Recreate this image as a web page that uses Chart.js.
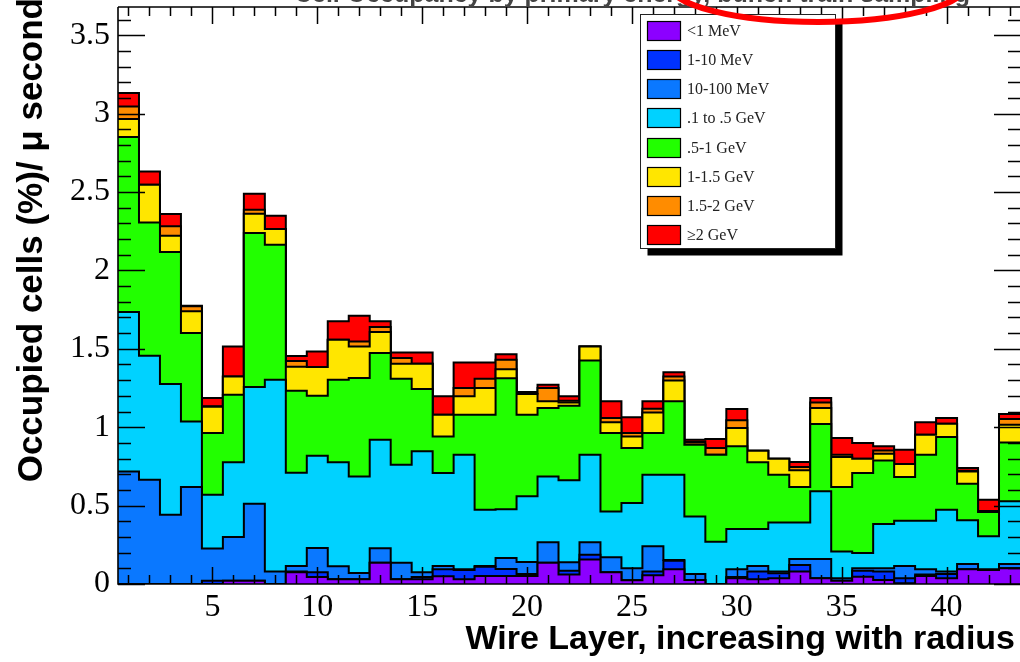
<!DOCTYPE html>
<html>
<head>
<meta charset="utf-8">
<title>Occupied cells per wire layer</title>
<script src="https://cdn.jsdelivr.net/npm/chart.js"></script>
<style>
  html, body { margin: 0; padding: 0; background: #fff; overflow: hidden; }
  canvas { display: block; }
</style>
</head>
<body>
<canvas id="chart" width="1020" height="662"></canvas>
<script>
// Wire layers (one histogram bin per layer)
const wireLayers = [1, 2, 3, 4, 5, 6, 7, 8, 9, 10, 11, 12, 13, 14, 15, 16, 17, 18, 19, 20,
  21, 22, 23, 24, 25, 26, 27, 28, 29, 30, 31, 32, 33, 34, 35, 36, 37, 38, 39, 40, 41, 42, 43];

// Occupied cells (%) per microsecond, split by primary particle energy
const eBelow1MeV = [0, 0, 0, 0, 0, 0.021, 0.021, 0, 0.075, 0.045, 0.030, 0.030, 0.135, 0.030, 0.030,
  0.050, 0.030, 0.051, 0.051, 0.051, 0.135, 0.060, 0.156, 0.075, 0.024, 0.056, 0.094, 0.026, 0,
  0.036, 0.030, 0.036, 0.079, 0.036, 0.021, 0.047, 0.026, 0.005, 0.051, 0.036, 0.094, 0.089, 0.100];
const e1to10MeV = [0, 0, 0, 0, 0.020, 0, 0, 0, 0.004, 0.030, 0, 0, 0, 0, 0.015,
  0.044, 0.059, 0.059, 0.045, 0.013, 0, 0.025, 0.030, 0, 0, 0.024, 0.055, 0, 0,
  0.009, 0.049, 0.032, 0.042, 0, 0, 0.038, 0.053, 0.031, 0.009, 0.028, 0, 0, 0];
const e10to100MeV = [0.718, 0.665, 0.442, 0.619, 0.207, 0.279, 0.491, 0.079, 0.036, 0.155, 0.083, 0.040, 0.093, 0.105, 0.030,
  0.021, 0.005, 0.005, 0.070, 0.076, 0.132, 0.053, 0.081, 0.095, 0.077, 0.161, 0.004, 0.038, 0,
  0.049, 0.036, 0.011, 0.038, 0.123, 0.015, 0.015, 0.021, 0.079, 0.034, 0.015, 0.034, 0.005, 0.028];
const e01to05GeV = [1.017, 0.791, 0.834, 0.418, 0.343, 0.476, 0.744, 1.224, 0.595, 0.588, 0.663, 0.616, 0.692, 0.626, 0.771,
  0.593, 0.731, 0.359, 0.310, 0.419, 0.419, 0.523, 0.558, 0.293, 0.416, 0.456, 0.544, 0.367, 0.270,
  0.257, 0.236, 0.314, 0.234, 0.432, 0.172, 0.098, 0.283, 0.289, 0.310, 0.395, 0.278, 0.210, 0.399];
const e05to1GeV = [1.116, 0.850, 0.841, 0.564, 0.393, 0.431, 0.982, 0.861, 0.522, 0.383, 0.527, 0.628, 0.553, 0.548, 0.397,
  0.233, 0.255, 0.606, 0.836, 0.521, 0.436, 0.476, 0.601, 0.500, 0.350, 0.266, 0.468, 0.457, 0.555,
  0.527, 0.425, 0.304, 0.226, 0.429, 0.411, 0.510, 0.405, 0.278, 0.421, 0.464, 0.234, 0.156, 0.376];
const e1to15GeV = [0.115, 0.241, 0.104, 0.138, 0.167, 0.117, 0.124, 0.100, 0.154, 0.183, 0.255, 0.201, 0.134, 0.096, 0.162,
  0.139, 0.117, 0.170, 0.057, 0.132, 0.043, 0.021, 0.089, 0.068, 0.074, 0.131, 0.133, 0.002, 0,
  0.117, 0.074, 0.102, 0.106, 0.102, 0.191, 0.091, 0.043, 0.083, 0.127, 0.084, 0.078, 0.003, 0.113];
const e15to2GeV = [0.080, 0, 0.060, 0.032, 0.003, 0, 0.025, 0, 0.036, 0, 0, 0.032, 0.032, 0.036, 0,
  0, 0.053, 0.059, 0.061, 0.003, 0.085, 0.011, 0, 0.028, 0.022, 0.024, 0.026, 0.015, 0.042,
  0.049, 0, 0, 0.021, 0.036, 0.015, 0, 0.021, 0, 0, 0, 0.004, 0.003, 0.036];
const eAbove2GeV = [0.085, 0.084, 0.079, 0.004, 0.053, 0.191, 0.102, 0.085, 0.032, 0.099, 0.117, 0.164, 0.036, 0.036, 0.072,
  0.117, 0.163, 0.104, 0.035, 0.009, 0.021, 0.028, 0, 0.106, 0.100, 0.047, 0.026, 0.015, 0.058,
  0.072, 0, 0, 0.032, 0.028, 0.106, 0.100, 0.026, 0.092, 0.079, 0.037, 0.018, 0.072, 0.032];

const seriesLabels = ['<1 MeV', '1-10 MeV', '10-100 MeV', '.1 to .5 GeV', '.5-1 GeV', '1-1.5 GeV', '1.5-2 GeV', '\u22652 GeV'];
const seriesValues = [eBelow1MeV, e1to10MeV, e10to100MeV, e01to05GeV, e05to1GeV, e1to15GeV, e15to2GeV, eAbove2GeV];

// Axis tick labels
const xTickValues = [5, 10, 15, 20, 25, 30, 35, 40];
const yTickValues = [0, 0.5, 1, 1.5, 2, 2.5, 3, 3.5];

const xTitle = 'Wire Layer, increasing with radius';
const yTitle = 'Occupied cells (%)/ \u03bc second';
const topTitle = 'Cell Occupancy by primary energy, bunch train sampling';

// Styling
const seriesColors = ['#8c00ff', '#0032ff', '#0a78ff', '#00d2ff', '#22ff00', '#ffe600', '#ff8c00', '#ff0000'];

// Each bin becomes a step: a point at the left edge of the bin, plus a closing point at the right edge.
function histPoints(values) {
  const pts = wireLayers.map((layer, i) => ({ x: layer - 0.5, y: values[i] }));
  const last = wireLayers.length - 1;
  pts.push({ x: wireLayers[last] + 0.5, y: values[last] });
  return pts;
}

const datasets = seriesValues.map((vals, i) => ({
  label: seriesLabels[i],
  data: histPoints(vals),
  backgroundColor: seriesColors[i],
  borderColor: '#000',
  borderWidth: 2,
  stepped: true,
  fill: i === 0 ? 'origin' : '-1',
  pointRadius: 0,
  tension: 0
}));

// Frame with inward ticks on all four sides, drawn over the filled areas
const frameAndDecor = {
  id: 'frameAndDecor',
  afterDatasetsDraw(chart) {
    const { ctx, chartArea: a, scales: { x, y } } = chart;
    ctx.save();
    ctx.strokeStyle = '#000';
    ctx.lineWidth = 1.6;
    ctx.beginPath();
    ctx.moveTo(a.left, a.top);
    ctx.lineTo(a.right + 2, a.top);
    ctx.moveTo(a.left, a.top);
    ctx.lineTo(a.left, a.bottom);
    ctx.lineTo(a.right + 2, a.bottom);
    ctx.stroke();

    ctx.lineWidth = 1.5;
    ctx.beginPath();
    for (let v = Math.ceil(x.min); v <= x.max; v++) {
      const px = Math.round(x.getPixelForValue(v)) + 0.5;
      const len = v % 5 === 0 ? 17 : 9;
      ctx.moveTo(px, a.bottom);
      ctx.lineTo(px, a.bottom - len);
      ctx.moveTo(px, a.top);
      ctx.lineTo(px, a.top + len);
    }
    for (let k = 0; k * 0.1 <= y.max + 1e-9; k++) {
      const py = Math.round(y.getPixelForValue(k * 0.1)) + 0.5;
      const len = k % 5 === 0 ? 27 : 13;
      ctx.moveTo(a.left, py);
      ctx.lineTo(a.left + len, py);
      ctx.moveTo(a.right + 1, py);
      ctx.lineTo(a.right + 1 - len, py);
    }
    ctx.stroke();
    ctx.restore();
  },
  afterDraw(chart) {
    const { ctx } = chart;
    ctx.save();

    // Titles
    ctx.fillStyle = '#444';
    ctx.font = 'bold 25px "Liberation Sans"';
    ctx.textAlign = 'center';
    ctx.textBaseline = 'alphabetic';
    ctx.fillText(topTitle, 632, 2);

    ctx.fillStyle = '#000';
    ctx.font = 'bold 34px "Liberation Sans"';
    ctx.textAlign = 'right';
    ctx.fillText(xTitle, 1015, 649);

    ctx.save();
    ctx.font = 'bold 35px "Liberation Sans"';
    ctx.translate(42, -2);
    ctx.rotate(-Math.PI / 2);
    ctx.textAlign = 'right';
    ctx.fillText(yTitle, 0, 0);
    ctx.restore();

    // Legend with drop shadow
    const L = 640.5, T = 14.5, W = 195, H = 234;
    ctx.fillStyle = '#000';
    ctx.fillRect(L + 7, T + 9, W, H - 2);
    ctx.fillStyle = '#fff';
    ctx.fillRect(L, T, W, H);
    ctx.strokeStyle = '#222';
    ctx.lineWidth = 1;
    ctx.strokeRect(L, T, W, H);
    ctx.font = '16px "Liberation Serif"';
    ctx.textAlign = 'left';
    ctx.textBaseline = 'middle';
    chart.data.datasets.forEach((d, i) => {
      const cy = Math.round(30.7 + 29.2 * i);
      ctx.fillStyle = d.backgroundColor;
      ctx.fillRect(647, cy - 10, 34, 20);
      ctx.strokeStyle = '#000';
      ctx.lineWidth = 1.2;
      ctx.strokeRect(647.5, cy - 9.5, 33, 19);
      ctx.fillStyle = '#222';
      ctx.fillText(d.label, 687, cy + 1);
    });

    // Highlight ring
    ctx.beginPath();
    ctx.ellipse(818, -15, 148, 37, 0, 0, Math.PI * 2);
    ctx.strokeStyle = '#ff0000';
    ctx.lineWidth = 6;
    ctx.stroke();

    ctx.restore();
  }
};

new Chart(document.getElementById('chart'), {
  type: 'line',
  data: { datasets },
  options: {
    responsive: false,
    animation: false,
    devicePixelRatio: 1,
    layout: { padding: { top: 7, left: 0, right: 0, bottom: 0 }, autoPadding: false },
    plugins: { legend: { display: false }, tooltip: { enabled: false }, title: { display: false } },
    scales: {
      x: {
        type: 'linear',
        min: 0.5,
        max: 43.5,
        grid: { display: false, drawTicks: false },
        border: { display: false },
        afterBuildTicks: s => { s.ticks = xTickValues.map(v => ({ value: v })); },
        afterFit: s => { s.height = 78; s.paddingLeft = 0; s.paddingRight = 0; },
        ticks: {
          font: { family: 'Liberation Serif', size: 32 },
          color: '#000',
          padding: 4,
          maxRotation: 0,
          autoSkip: false,
          callback: v => String(v)
        }
      },
      y: {
        type: 'linear',
        stacked: true,
        min: 0,
        max: 3.68,
        grid: { display: false, drawTicks: false },
        border: { display: false },
        afterBuildTicks: s => { s.ticks = yTickValues.map(v => ({ value: v })); },
        afterFit: s => { s.width = 118; s.paddingTop = 0; s.paddingBottom = 0; },
        ticks: {
          font: { family: 'Liberation Serif', size: 32 },
          color: '#000',
          padding: 8,
          callback: v => String(v)
        }
      }
    }
  },
  plugins: [frameAndDecor]
});
</script>
</body>
</html>
